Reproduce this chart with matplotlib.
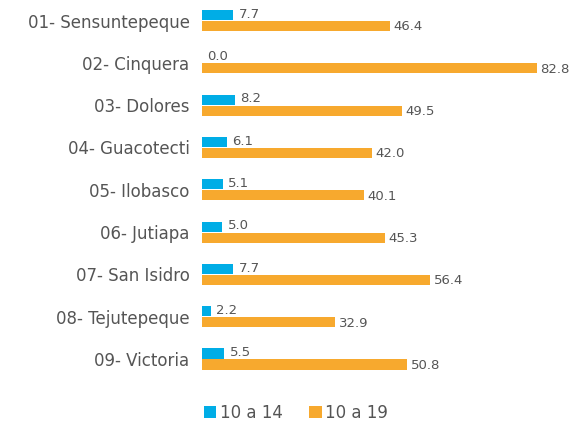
import matplotlib.pyplot as plt
import numpy as np

# Municipios y porcentajes por grupo de edad
municipios = [
    "01- Sensuntepeque", "02- Cinquera", "03- Dolores", "04- Guacotecti",
    "05- Ilobasco", "06- Jutiapa", "07- San Isidro", "08- Tejutepeque",
    "09- Victoria",
]
edad_10_14 = [7.7, 0.0, 8.2, 6.1, 5.1, 5.0, 7.7, 2.2, 5.5]
edad_10_19 = [46.4, 82.8, 49.5, 42.0, 40.1, 45.3, 56.4, 32.9, 50.8]
series = ["10 a 14", "10 a 19"]

azul = "#00ADE6"
naranja = "#F7A92E"
gris = "#555555"

plt.rcParams["font.family"] = ["DejaVu Sans"]

fig = plt.figure(figsize=(5.81, 4.28), dpi=100)
ax = fig.add_axes([0.3477, 0.112, 0.64, 0.888])

y = np.arange(len(municipios))
h = 0.24
off = 0.13
ax.barh(y - off, edad_10_14, height=h, color=azul, label=series[0])
ax.barh(y + off, edad_10_19, height=h, color=naranja, label=series[1])

for yi, v in zip(y, edad_10_14):
    ax.text(v + 1.3, yi - off - 0.02, f"{v:.1f}", fontsize=9.5, color=gris,
            va="center", ha="left")
for yi, v in zip(y, edad_10_19):
    ax.text(v + 0.9, yi + off + 0.02, f"{v:.1f}", fontsize=9.5, color=gris,
            va="center", ha="left")

ax.set_xlim(0, 92)
ax.set_ylim(8.496, -0.485)
ax.set_yticks(y)
ax.set_yticklabels(municipios, fontsize=12, color=gris)
ax.tick_params(axis="y", length=0, pad=9)
ax.set_xticks([])
for s in ax.spines.values():
    s.set_visible(False)

fig.legend(loc="center left", bbox_to_anchor=(0.325, 0.035), ncol=2, frameon=False,
           fontsize=12, labelcolor=gris, handlelength=0.75, handleheight=0.75,
           handletextpad=0.2, columnspacing=1.6)

fig.savefig("out.png", dpi=100)
